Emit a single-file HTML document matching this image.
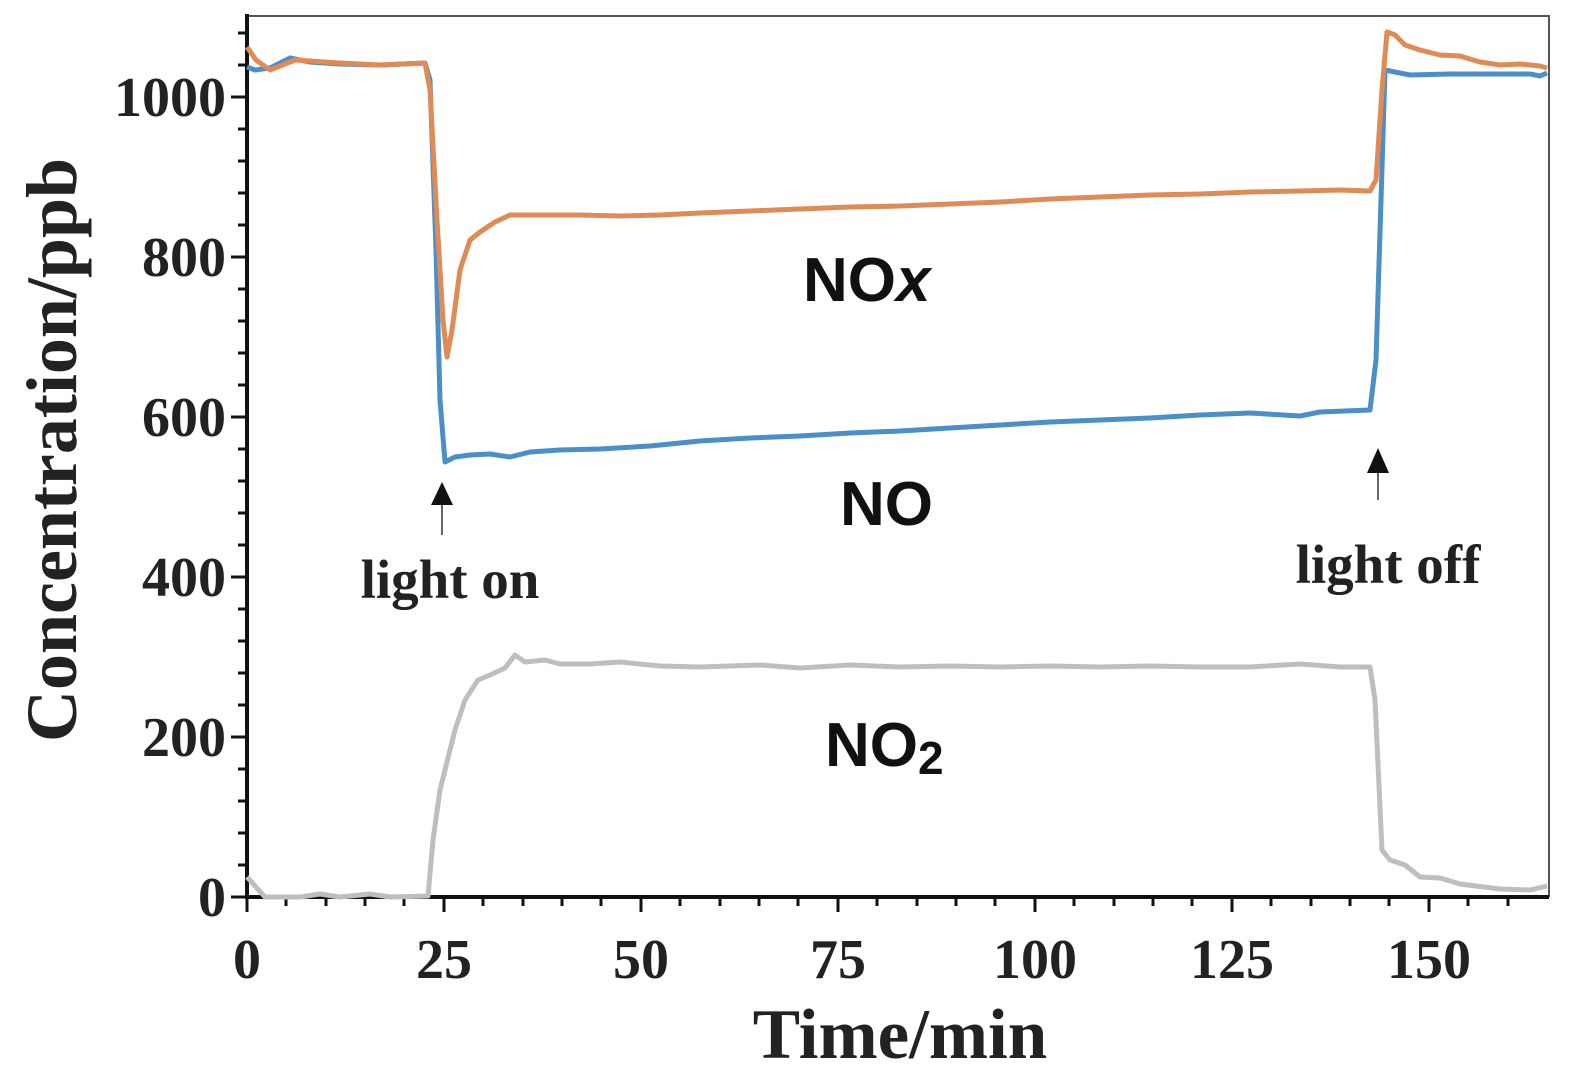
<!DOCTYPE html>
<html><head><meta charset="utf-8"><style>body{margin:0;background:#fff}svg{display:block}</style></head><body>
<svg width="1570" height="1079" viewBox="0 0 1570 1079" xmlns="http://www.w3.org/2000/svg">
<rect width="1570" height="1079" fill="#fff"/>
<path d="M247,16 H1549 V897" fill="none" stroke="#555" stroke-width="2"/>
<g stroke="#111" stroke-width="3">
<path d="M247,14 V897 H1549" fill="none" stroke-width="4"/>
<path d="M231,97H247M231,257H247M231,417H247M231,577H247M231,737H247M231,897H247"/>
<path d="M238,129H247M238,161H247M238,193H247M238,225H247M238,289H247M238,321H247M238,353H247M238,385H247M238,449H247M238,481H247M238,513H247M238,545H247M238,609H247M238,641H247M238,673H247M238,705H247M238,769H247M238,801H247M238,833H247M238,865H247M238,65H247M238,33H247"/>
<path d="M247,897V912M444,897V912M641,897V912M838,897V912M1035,897V912M1232,897V912M1429,897V912"/>
<path d="M286,897V906M326,897V906M365,897V906M404,897V906M483,897V906M523,897V906M562,897V906M601,897V906M680,897V906M720,897V906M759,897V906M798,897V906M877,897V906M917,897V906M956,897V906M995,897V906M1074,897V906M1114,897V906M1153,897V906M1192,897V906M1271,897V906M1311,897V906M1350,897V906M1389,897V906M1468,897V906M1508,897V906"/>
</g>
<g fill="none" stroke-width="5" stroke-linejoin="round">
<polyline stroke="#bdbec0" points="247,877 256,887 265,897 300,897 320,894 340,897 370,894 390,897 428,896 433,840 440,790 445,770 455,730 465,700 478,680 490,675 505,668 515,655 525,662 545,660 560,664 590,664 620,662 660,666 700,667 760,665 800,668 850,665 900,667 950,666 1000,667 1050,666 1100,667 1150,666 1200,667 1250,667 1300,664 1340,667 1370,667 1375,700 1382,850 1390,860 1405,865 1420,877 1440,878 1460,884 1500,889 1530,890 1547,886"/>
<polyline stroke="#4a8fc8" points="247,67 255,70 270,68 290,58 310,62 340,64 380,65 425,63 430,80 436,250 440,400 445,462 455,457 470,455 490,454 510,457 530,452 560,450 600,449 650,446 700,441 750,438 800,436 850,433 900,431 950,428 1000,425 1050,422 1100,420 1150,418 1200,415 1250,413 1300,416 1320,412 1370,410 1376,360 1381,200 1385,70 1395,72 1410,75 1450,74 1500,74 1530,74 1540,76 1547,73"/>
<polyline stroke="#e08a55" points="247,47 256,60 270,70 280,66 295,60 310,61 340,63 380,65 425,63 430,90 437,220 443,320 447,357 452,330 460,270 470,240 480,232 495,222 510,215 540,215 580,215 620,216 660,215 700,213 750,211 800,209 850,207 900,206 950,204 1000,202 1050,199 1100,197 1150,195 1200,194 1250,192 1300,191 1340,190 1370,191 1376,180 1382,90 1387,32 1395,35 1405,45 1420,50 1440,55 1460,56 1480,62 1500,65 1520,64 1540,66 1547,68"/>
</g>
<g fill="#111">
<path d="M442,535V505" stroke="#666" stroke-width="2"/><polygon points="442,482 431,505 453,505"/>
<path d="M1378,500V473" stroke="#666" stroke-width="2"/><polygon points="1378,448 1367,473 1389,473"/>
</g>
<g font-family="Liberation Serif, serif" font-weight="bold" fill="#222">
<g font-size="56" text-anchor="end"><text x="226" y="116">1000</text><text x="226" y="276">800</text><text x="226" y="436">600</text><text x="226" y="596">400</text><text x="226" y="756">200</text><text x="226" y="916">0</text></g>
<g font-size="56" text-anchor="middle"><text x="247" y="978">0</text><text x="444" y="978">25</text><text x="641" y="978">50</text><text x="838" y="978">75</text><text x="1035" y="978">100</text><text x="1232" y="978">125</text><text x="1429" y="978">150</text></g>
<text x="900" y="1058" font-size="71" text-anchor="middle">Time/min</text>
<text transform="translate(76,450) rotate(-90)" font-size="72" text-anchor="middle">Concentration/ppb</text>
<text x="450" y="598" font-size="55" text-anchor="middle">light on</text>
<text x="1388" y="583" font-size="55" text-anchor="middle">light off</text>
</g>
<g font-family="Liberation Sans, sans-serif" font-weight="bold" fill="#111" font-size="62">
<text x="803" y="301">NO<tspan font-style="italic">x</tspan></text>
<text x="840" y="525">NO</text>
<text x="825" y="766">NO<tspan font-size="46" dy="8">2</tspan></text>
</g>
</svg>
</body></html>
